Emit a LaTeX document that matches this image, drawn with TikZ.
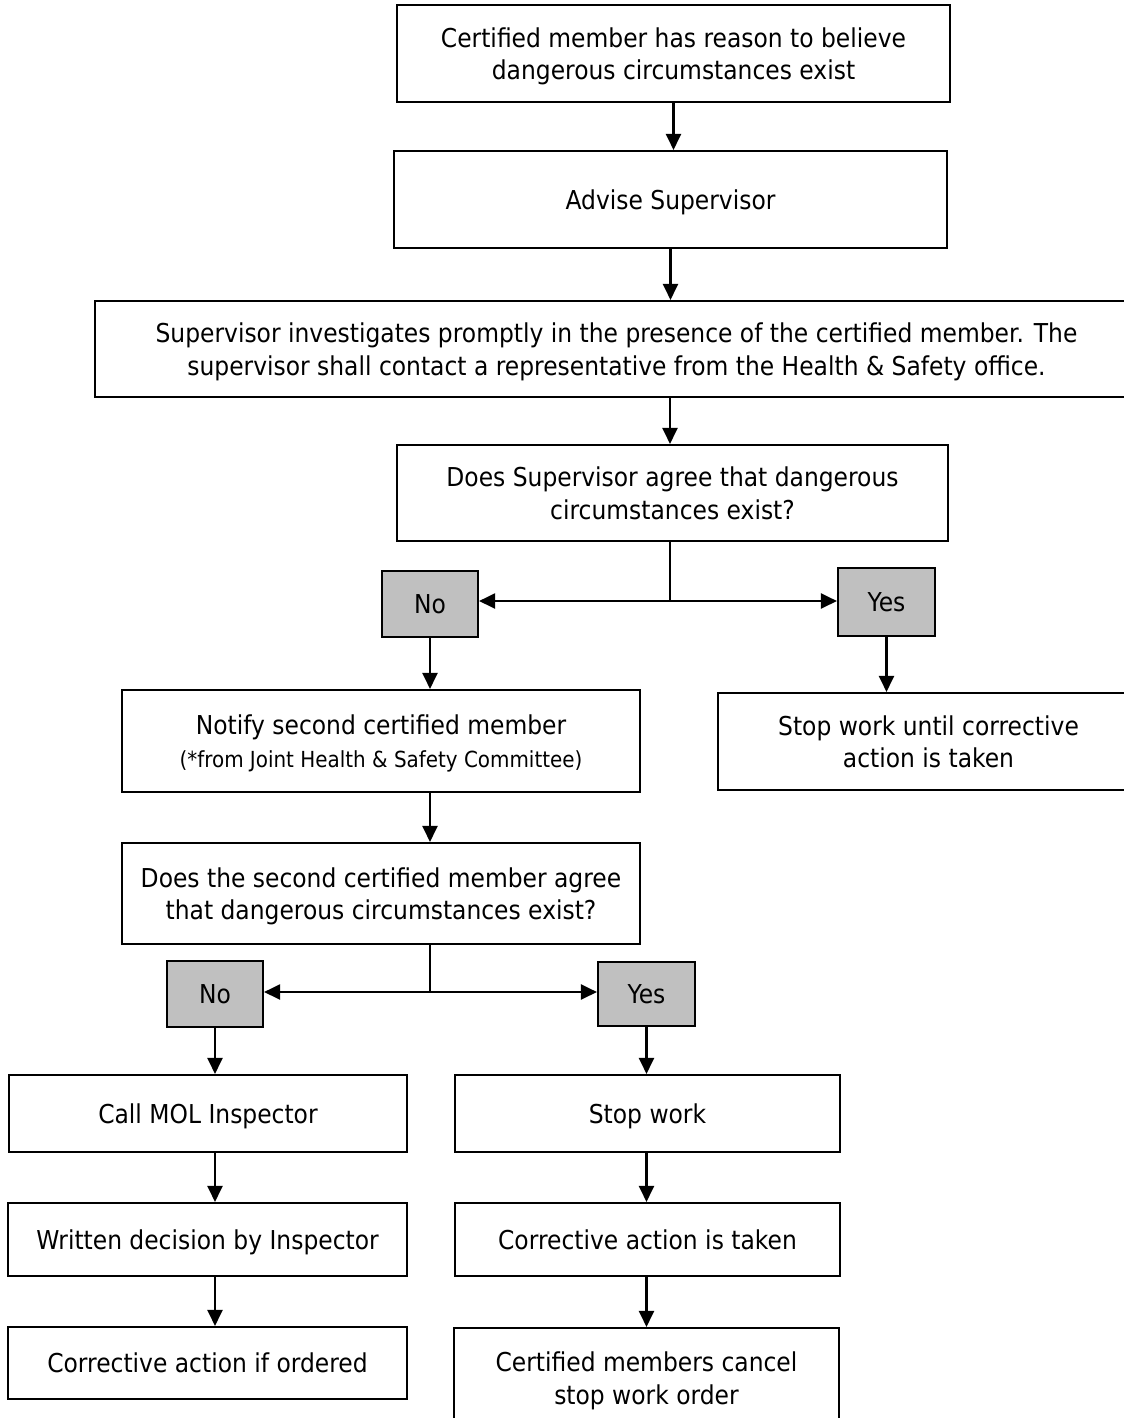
\documentclass[tikz,border=0pt]{standalone}
\usepackage{fontspec}
\setmainfont{DejaVu Sans}[FakeStretch=0.9]
\usepackage{tikz}
\usetikzlibrary{arrows.meta,calc,positioning}
\definecolor{ansgray}{RGB}{192,192,192}

\begin{document}
\begin{tikzpicture}[x=0.02cm,y=-0.02cm,line width=1.2pt]
	\tikzstyle{every node}=[font=\fontsize{14.8pt}{18.4pt}\selectfont]
	\tikzstyle{box}=[draw,align=center,inner sep=0pt,text depth=0pt,line width=1.2pt]
	\tikzstyle{answer}=[box,fill=ansgray]
	\tikzstyle{arr}=[-{Triangle[length=0.32cm,width=0.3cm]},line width=1.2pt]
	\tikzset{boxsize/.style 2 args={minimum width=#1*0.02cm,minimum height=#2*0.02cm}}
	\useasboundingbox (0,0) rectangle (1124,1418);
	
	\node[box,boxsize={553}{97}] (believe) at (673.5,53.5) {Certified member has reason to believe\\dangerous circumstances exist};
	\node[box,boxsize={553}{97}] (advise) at (670.5,199.5) {Advise Supervisor};
	\node[box,boxsize={1043}{96}] (investigate) at (616.5,349) {Supervisor investigates promptly in the presence of the certified member. The\\supervisor shall contact a representative from the Health \& Safety office.};
	\node[box,boxsize={551}{96}] (agree) at (672.5,493) {Does Supervisor agree that dangerous\\circumstances exist?};
	\node[answer,boxsize={96}{66}] (no) at (430,604) {No};
	\node[answer,boxsize={97}{68}] (yes) at (886.5,602) {Yes};
	\node[box,boxsize={518}{102}] (notify) at (381,741) {Notify second certified member\\{\fontsize{12.6pt}{15pt}\selectfont (*from Joint Health \& Safety Committee)}};
	\node[box,boxsize={421}{97}] (stopuntil) at (928.5,741.5) {Stop work until corrective\\action is taken};
	\node[box,boxsize={518}{101}] (second) at (381,893.5) {Does the second certified member agree\\that dangerous circumstances exist?};
	\node[answer,boxsize={96}{66}] (notwo) at (215,994) {No};
	\node[answer,boxsize={97}{64}] (yestwo) at (646.5,994) {Yes};
	\node[box,boxsize={398}{77}] (mol) at (208,1113.5) {Call MOL Inspector};
	\node[box,boxsize={385}{77}] (stopwork) at (647.5,1113.5) {Stop work};
	\node[box,boxsize={399}{73}] (decision) at (207.5,1239.5) {Written decision by Inspector};
	\node[box,boxsize={385}{73}] (taken) at (647.5,1239.5) {Corrective action is taken};
	\node[box,boxsize={399}{72}] (ifordered) at (207.5,1363) {Corrective action if ordered};
	\node[box,boxsize={385}{100}] (cancel) at (646.5,1378) {Certified members cancel\\stop work order};
	
	% branch points
	\coordinate (fork) at (670,601);
	\coordinate (forktwo) at (430,992);
	
	\draw (agree.south -| fork) -- (fork);
	\draw (second.south -| forktwo) -- (forktwo);
	
	\path
	(believe.south) edge[arr] (believe.south |- advise.north)
	(advise.south) edge[arr] (advise.south |- investigate.north)
	(investigate.south -| fork) edge[arr] (agree.north -| fork)
	(fork) edge[arr] (fork -| no.east)
	(fork) edge[arr] (fork -| yes.west)
	(no.south) edge[arr] (no.south |- notify.north)
	(yes.south) edge[arr] (yes.south |- stopuntil.north)
	(notify.south -| no) edge[arr] (second.north -| no)
	(forktwo) edge[arr] (forktwo -| notwo.east)
	(forktwo) edge[arr] (forktwo -| yestwo.west)
	(notwo.south) edge[arr] (notwo.south |- mol.north)
	(yestwo.south) edge[arr] (yestwo.south |- stopwork.north)
	(mol.south -| notwo) edge[arr] (decision.north -| notwo)
	(decision.south -| notwo) edge[arr] (ifordered.north -| notwo)
	(stopwork.south -| yestwo) edge[arr] (taken.north -| yestwo)
	(taken.south -| yestwo) edge[arr] (cancel.north -| yestwo)
	;
\end{tikzpicture}
\end{document}
